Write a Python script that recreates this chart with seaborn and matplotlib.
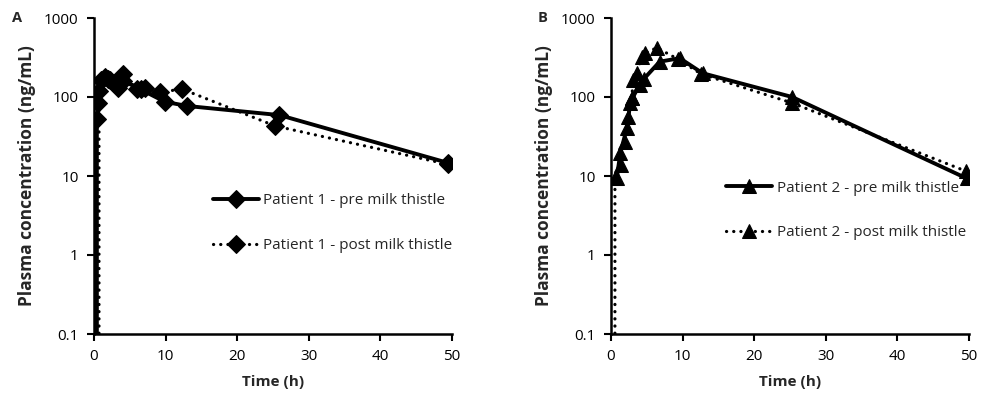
import numpy as np
import pandas as pd
import matplotlib
matplotlib.use("Agg")
import matplotlib.pyplot as plt
import seaborn as sns

# Patient 1 (panel A) – sampling times (h) and plasma concentrations (ng/mL)
p1_pre_time = [0.4, 0.4, 0.6, 1.5, 2.3, 3.3, 4.1, 6.5, 9.9, 13.0, 25.9, 49.5]
p1_pre_conc = [0, 52, 85, 178, 165, 130, 160, 125, 87, 77, 59, 14.6]
p1_post_time = [0.5, 0.7, 1.0, 2.0, 2.8, 4.0, 6.0, 7.1, 9.2, 12.3, 25.3, 49.5]
p1_post_conc = [0, 120, 165, 170, 150, 195, 125, 130, 115, 126, 43, 14]

# Patient 2 (panel B)
p2_pre_time = [0.8, 1.3, 2.2, 2.7, 3.0, 4.0, 4.6, 6.8, 9.6, 12.8, 25.3, 49.7]
p2_pre_conc = [9.4, 19.5, 40, 84, 97, 143, 170, 280, 310, 200, 100, 9.3]
p2_post_time = [0.55, 0.55, 1.35, 1.9, 2.4, 2.9, 3.1, 3.6, 4.3, 4.75, 6.4, 9.4, 12.6, 25.3, 49.6]
p2_post_conc = [0, 9.4, 13.8, 27, 56, 97, 165, 200, 320, 360, 420, 300, 195, 84, 11.5]

legend_p1 = ["Patient 1 - pre milk thistle", "Patient 1 - post milk thistle"]
legend_p2 = ["Patient 2 - pre milk thistle", "Patient 2 - post milk thistle"]

y_ticks = [0.1, 1, 10, 100, 1000]
y_tick_labels = ["0.1", "1", "10", "100", "1000"]
x_ticks = [0, 10, 20, 30, 40, 50]

sns.set_theme(style="ticks")
plt.rcParams["font.family"] = ["Open Sans", "DejaVu Sans"]

fig = plt.figure(figsize=(9.84, 3.97), dpi=100)
ax_a = fig.add_axes([94 / 984, 1 - 334 / 397, 358 / 984, 316 / 397])
ax_b = fig.add_axes([611 / 984, 1 - 334 / 397, 358 / 984, 316 / 397])

solid_kw = dict(color="black", linewidth=2.8, linestyle="-")
dot_kw = dict(color="black", linewidth=2.3, linestyle=(0, (0.05, 2.2)),
              dash_capstyle="round")


def draw_series(ax, t, c, label, marker, ms, kw):
    df = pd.DataFrame({"time": t, "conc": c})
    sns.lineplot(data=df, x="time", y="conc", ax=ax, estimator=None,
                 sort=False, marker=marker, markersize=ms,
                 markeredgecolor="black", markerfacecolor="black",
                 label=label, **kw)


draw_series(ax_a, p1_pre_time, p1_pre_conc, legend_p1[0], "D", 9, solid_kw)
draw_series(ax_a, p1_post_time, p1_post_conc, legend_p1[1], "D", 9, dot_kw)
draw_series(ax_b, p2_pre_time, p2_pre_conc, legend_p2[0], "^", 10, solid_kw)
draw_series(ax_b, p2_post_time, p2_post_conc, legend_p2[1], "^", 10, dot_kw)

for ax, letter, letter_x, leg_anchor in (
        (ax_a, "A", 12, (0.315, 0.465)),
        (ax_b, "B", 538, (0.305, 0.505))):
    ax.set_yscale("log")
    ax.set_ylim(0.1, 1000)
    ax.set_xlim(0, 50)
    ax.set_yticks(y_ticks)
    ax.set_yticklabels(y_tick_labels)
    ax.set_xticks(x_ticks)
    ax.minorticks_off()
    ax.tick_params(axis="both", direction="out", length=5, width=1.5,
                   color="black", labelsize=11, labelcolor="black", pad=6)
    for side in ("left", "bottom"):
        ax.spines[side].set_linewidth(1.8)
        ax.spines[side].set_color("black")
    for side in ("top", "right"):
        ax.spines[side].set_visible(False)
    ax.set_xlabel("Time (h)", fontsize=11, fontweight="bold", labelpad=8)
    ax.set_ylabel("Plasma concentration (ng/mL)", fontsize=12.5,
                  fontweight="bold", labelpad=6)
    ax.grid(False)
    ax.set_facecolor("white")
    leg = ax.legend(loc="upper left", bbox_to_anchor=leg_anchor, frameon=False,
                    fontsize=11, handlelength=3.0, handletextpad=0.3,
                    labelspacing=1.95, borderaxespad=0)
    fig.text(letter_x / 984, 1 - 18 / 397, letter, fontsize=10.5,
             fontweight="bold", va="center", ha="left")

fig.savefig("out.png", dpi=100, facecolor="white")
